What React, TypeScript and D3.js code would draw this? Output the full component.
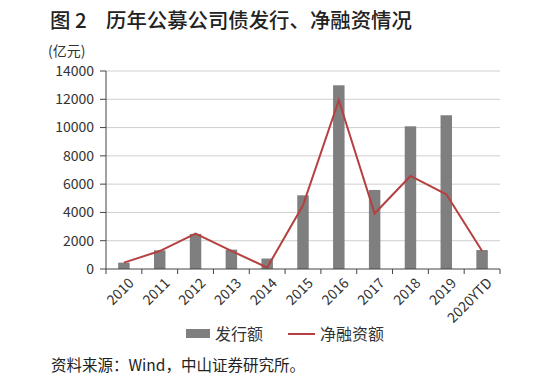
import React from "react";
import * as d3 from "d3";

const categories = ["2010","2011","2012","2013","2014","2015","2016","2017","2018","2019","2020YTD"];
const issuance = [450, 1320, 2480, 1370, 740, 5210, 12990, 5590, 10090, 10870, 1340];
const netFinancing = [450, 1270, 2500, 1280, 100, 4500, 11930, 3920, 6580, 5280, 1270];
const yTicks = [0, 2000, 4000, 6000, 8000, 10000, 12000, 14000];

const W = 555, H = 383;
const left = 106, right = 500, top = 71, bottom = 269;
const font = "'Noto Sans CJK SC', 'Noto Sans', sans-serif";

export default function App() {
  const x = d3.scaleBand<string>().domain(categories).range([left, right]).paddingInner(0.68).paddingOuter(0.34);
  const xb = d3.scaleBand<string>().domain(categories).range([left, right]);
  const y = d3.scaleLinear().domain([0, 14000]).range([bottom, top]);
  const line = d3.line<number>().x((_, i) => xb(categories[i])! + xb.bandwidth() / 2).y(d => y(d));
  const tickXs = d3.range(categories.length + 1).map(i => left + i * xb.step());
  return (
    <svg width={W} height={H} style={{ position: "absolute", left: 0, top: 0, background: "#fff" }}>
      <text x={50} y={28} fontFamily={font} fontSize={20.4} fill="#222" fontWeight={500}>图 2</text>
      <text x={106} y={28} fontFamily={font} fontSize={20.4} fill="#222" fontWeight={500}>历年公募公司债发行、净融资情况</text>
      <text x={48} y={56} fontFamily={font} fontSize={14} fill="#333">(亿元)</text>
      {yTicks.map(t => (
        <g key={t}>
          {t > 0 && <line x1={left} x2={right} y1={y(t)} y2={y(t)} stroke="#cfcfcf" strokeWidth={1} />}
          <line x1={left - 6} x2={left} y1={y(t)} y2={y(t)} stroke="#444" strokeWidth={1} />
          <text x={94} y={y(t)} dy="0.35em" textAnchor="end" fontFamily={font} fontSize={14} fill="#333">{t}</text>
        </g>
      ))}
      {categories.map((c, i) => (
        <rect key={c} x={x(c)} y={y(issuance[i])} width={x.bandwidth()} height={bottom - y(issuance[i])} fill="#7f7f7f" />
      ))}
      <path d={line(netFinancing) || ""} fill="none" stroke="#b5403f" strokeWidth={2} />
      <line x1={left} x2={left} y1={top} y2={bottom} stroke="#444" strokeWidth={1} />
      <line x1={left} x2={right} y1={bottom} y2={bottom} stroke="#444" strokeWidth={1} />
      {tickXs.map((tx, i) => (
        <line key={i} x1={tx} x2={tx} y1={bottom} y2={bottom + 5} stroke="#444" strokeWidth={1} />
      ))}
      {categories.map(c => {
        const cx = xb(c)! + xb.bandwidth() / 2 + 4;
        const cy = bottom + 8;
        return (
          <text key={c} x={cx} y={cy} textAnchor="end" dy="0.7em" transform={`rotate(-45 ${cx} ${cy})`} fontFamily={font} fontSize={14} fill="#333">{c}</text>
        );
      })}
      <rect x={186} y={329} width={24} height={9} fill="#7f7f7f" />
      <text x={215} y={334} dy="0.35em" fontFamily={font} fontSize={16} fill="#333">发行额</text>
      <line x1={288} x2={315} y1={334} y2={334} stroke="#b5403f" strokeWidth={2} />
      <text x={320} y={334} dy="0.35em" fontFamily={font} fontSize={16} fill="#333">净融资额</text>
      <text x={51} y={371} fontFamily={font} fontSize={15.5} fill="#222">资料来源：Wind，中山证券研究所。</text>
    </svg>
  );
}
